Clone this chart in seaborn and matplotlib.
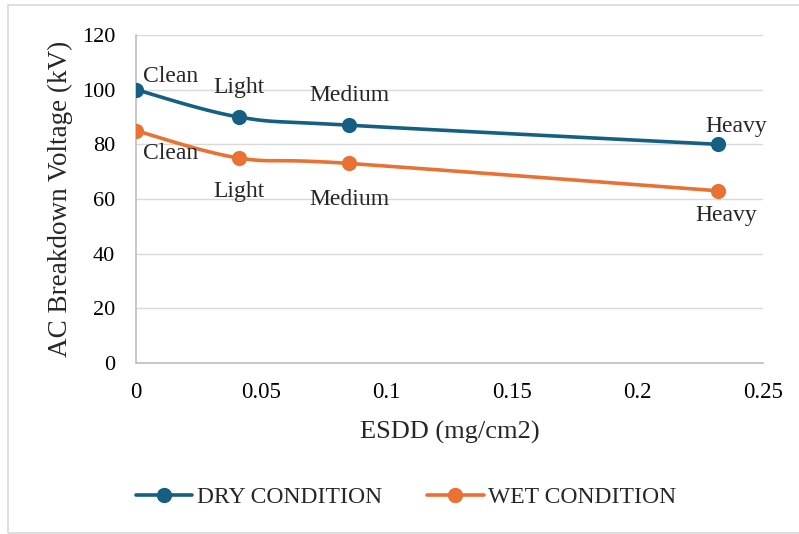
import numpy as np
import pandas as pd
import matplotlib
matplotlib.use("Agg")
import matplotlib.pyplot as plt
from matplotlib.lines import Line2D
from matplotlib.patches import Rectangle
import seaborn as sns

# ESDD levels (mg/cm2) and breakdown voltages (kV)
esdd = [0.0, 0.041, 0.085, 0.232]
levels = ["Clean", "Light", "Medium", "Heavy"]
dry_kv = [100, 90, 87, 80]
wet_kv = [85, 75, 73, 63]

x_ticks = [0, 0.05, 0.1, 0.15, 0.2, 0.25]
x_tick_labels = ["0", "0.05", "0.1", "0.15", "0.2", "0.25"]
y_ticks = [0, 20, 40, 60, 80, 100, 120]

DRY_COLOR = "#156082"
WET_COLOR = "#E97132"

sns.set_theme(style="white")
plt.rcParams["font.family"] = ["Liberation Serif", "DejaVu Serif"]


def smooth_curve(xs, ys, n=40):
    """Cubic Bezier smoothing through the points (Catmull-Rom style)."""
    pts = np.column_stack([xs, ys]).astype(float)
    out = []
    m = len(pts)
    for i in range(m - 1):
        p0 = pts[i - 1] if i > 0 else pts[i]
        p1 = pts[i]
        p2 = pts[i + 1]
        p3 = pts[i + 2] if i + 2 < m else pts[i + 1]
        c1 = p1 + (p2 - p0) / 6.0
        c2 = p2 - (p3 - p1) / 6.0
        t = np.linspace(0, 1, n)[:, None]
        seg = ((1 - t) ** 3) * p1 + 3 * ((1 - t) ** 2) * t * c1 + 3 * (1 - t) * t ** 2 * c2 + t ** 3 * p2
        out.append(seg if i == 0 else seg[1:])
    arr = np.vstack(out)
    return arr[:, 0], arr[:, 1]


fig = plt.figure(figsize=(7.99, 5.34), dpi=100)
ax = fig.add_axes([136 / 799, 1 - 363 / 534, (763 - 136) / 799, (363 - 35) / 534])

for vals, color in [(dry_kv, DRY_COLOR), (wet_kv, WET_COLOR)]:
    sx, sy = smooth_curve(esdd, vals)
    curve = pd.DataFrame({"x": sx, "y": sy})
    sns.lineplot(data=curve, x="x", y="y", ax=ax, color=color, lw=2.6,
                 sort=False, estimator=None, zorder=3)
    pts = pd.DataFrame({"x": esdd, "y": vals})
    sns.scatterplot(data=pts, x="x", y="y", ax=ax, color=color, s=120,
                    edgecolor=color, linewidth=0, zorder=4)

ax.set_xlim(0, 0.25)
ax.set_ylim(0, 120)
ax.set_xticks(x_ticks)
ax.set_xticklabels(x_tick_labels)
ax.set_yticks(y_ticks)
ax.tick_params(axis="both", length=0, colors="#000000")
ax.tick_params(axis="x", pad=13.5, labelsize=16.5)
ax.tick_params(axis="y", pad=15, labelsize=16)
ax.yaxis.grid(True, color="#D9D9D9", lw=1.0)
ax.xaxis.grid(False)
for side in ["top", "right"]:
    ax.spines[side].set_visible(False)
for side in ["left", "bottom"]:
    ax.spines[side].set_color("#BFBFBF")
    ax.spines[side].set_linewidth(1.2)
ax.set_xlabel("ESDD (mg/cm2)", fontsize=19, labelpad=13)
ax.set_ylabel("AC Breakdown Voltage (kV)", fontsize=19.5, labelpad=6)

# point labels
dry_offsets = [(5, 2, "left"), (0, 14, "center"), (0, 14, "center"), (-9, 5.5, "left")]
wet_offsets = [(5, -24, "left"), (0, -32, "center"), (0, -33.5, "center"), (-16, -25.5, "left")]
for xv, yv, lab, (dx, dy, ha) in zip(esdd, dry_kv, levels, dry_offsets):
    ax.annotate(lab, (xv, yv), xytext=(dx, dy), textcoords="offset points",
                ha=ha, va="bottom", fontsize=17, zorder=5, annotation_clip=False)
for xv, yv, lab, (dx, dy, ha) in zip(esdd, wet_kv, levels, wet_offsets):
    ax.annotate(lab, (xv, yv), xytext=(dx, dy), textcoords="offset points",
                ha=ha, va="bottom", fontsize=17, zorder=5, annotation_clip=False)

handles = [
    Line2D([], [], color=DRY_COLOR, lw=2.6, marker="o", markersize=10),
    Line2D([], [], color=WET_COLOR, lw=2.6, marker="o", markersize=10),
]
fig.legend(handles, ["DRY CONDITION", "WET CONDITION"], loc="center",
           bbox_to_anchor=(406 / 799, 1 - 497 / 534), ncol=2, frameon=False,
           fontsize=17, handlelength=2.4, columnspacing=1.9, handletextpad=0.2,
           borderpad=0, borderaxespad=0)

# chart-area border
fig.patches.append(Rectangle((8 / 799, 1 / 534), 1.0, 1 - 6 / 534,
                             transform=fig.transFigure, fill=False,
                             edgecolor="#D9D9D9", lw=1.2, zorder=0))

fig.savefig("out.png", dpi=100)
